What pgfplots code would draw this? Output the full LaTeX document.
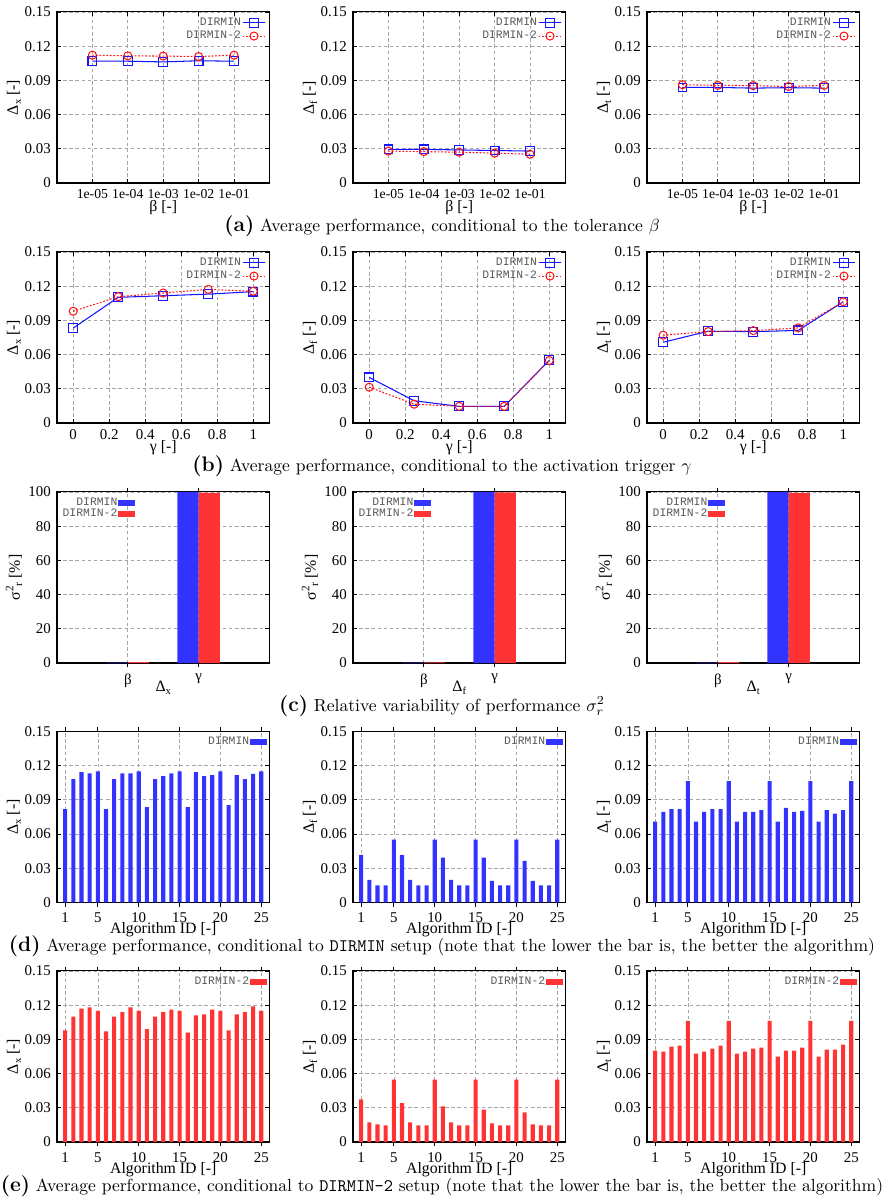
\documentclass[border=0pt]{standalone}
\usepackage{fontspec}
\usepackage{pgfplots}
\pgfplotsset{compat=1.18}
\newfontfamily\tms{Liberation Serif}
\newfontfamily\cour{Liberation Mono}
\definecolor{lblue}{RGB}{20,20,255}
\definecolor{lred}{RGB}{255,20,20}
\definecolor{bblue}{RGB}{51,51,255}
\definecolor{bred}{RGB}{255,51,51}
\newcommand{\sub}[1]{\raisebox{-0.45ex}{\fontsize{6}{6}\selectfont #1}}
\pgfplotsset{
  base/.style={
    scale only axis, width=121.1pt, height=97.5pt, anchor=south west,
    ymin=0, ymax=0.15, ytick={0,0.03,0.06,0.09,0.12,0.15},
    yticklabels={0,0.03,0.06,0.09,0.12,0.15},
    grid=major, grid style={gray!70, dash pattern=on 2pt off 1.5pt, line width=0.4pt},
    axis line style={line width=0.6pt},
    tick align=inside, major tick length=2.5pt,
    tick style={black, line width=0.5pt},
    tick label style={font=\tms\fontsize{8.5}{10}\selectfont},
    label style={font=\tms\fontsize{9}{10}\selectfont},
    ylabel style={at={(axis description cs:-0.2023,0.5)}, anchor=center},
    xlabel style={at={(axis description cs:0.5,-0.142)}, anchor=center},
    legend style={font=\cour\fontsize{6.5}{7}\selectfont, text=black!65, draw=none, fill=none, inner sep=0pt, row sep=0.6pt, nodes={inner sep=0.6pt}},
    legend cell align=right,
    legend plot pos=right,
  },
  linelegend/.style={
    legend style={at={(0.985,0.975)}, anchor=north east},
    legend image code/.code={\draw[##1, mark=none] (0pt,0pt) -- (13pt,0pt); \draw[##1] plot coordinates {(6.5pt,0pt)};},
  },
  linesty/.style={
    linelegend,
    xmin=0, xmax=6, xtick={1,2,3,4,5},
    xticklabels={1e-05,1e-04,1e-03,1e-02,1e-01},
    xticklabel style={font=\tms\fontsize{7.8}{9}\selectfont},
    xlabel={β [-]},
  },
  gamsty/.style={
    linelegend,
    xmin=-0.09, xmax=1.09, xtick={0,0.2,0.4,0.6,0.8,1},
    xticklabels={0,0.2,0.4,0.6,0.8,1},
    xlabel={γ [-]},
  },
  dm/.style={lblue, line width=0.6pt, mark=square, mark size=2.5pt, mark options={solid, line width=0.6pt}},
  dmb/.style={lred, line width=0.6pt, dash pattern=on 1pt off 1pt, mark=o, mark size=2.3pt, mark options={solid, line width=0.6pt}},
  varsty/.style={
    ybar, ymin=0, ymax=100, ytick={0,20,40,60,80,100}, yticklabels={0,20,40,60,80,100},
    xmin=0, xmax=3, xtick={1,2}, xticklabels={β,γ},
    ylabel={σ\raisebox{0.9ex}{\fontsize{6.5}{6}\selectfont 2}\raisebox{-0.3ex}{\fontsize{6.5}{6}\selectfont r} [\%]},
    xlabel style={at={(axis description cs:0.5,-0.145)}},
    legend style={at={(0.02,0.975)}, anchor=north west, row sep=-0.6pt},
    legend image code/.code={\fill[##1, draw=none] (0pt,-1.8pt) rectangle (9.5pt,1.8pt);},
  },
  algsty/.style={
    ybar, xmin=0, xmax=26, xtick={1,5,10,15,20,25}, xticklabels={1,5,10,15,20,25},
    xlabel={Algorithm ID [-]}, xlabel style={at={(axis description cs:0.5,-0.16)}},
    legend style={at={(0.99,0.975)}, anchor=north east},
    legend image code/.code={\fill[##1, draw=none] (0pt,-1.8pt) rectangle (9.5pt,1.8pt);},
  },
}
\begin{document}
\begin{tikzpicture}
\useasboundingbox (0,0) rectangle (503.88pt,-682.86pt);
% ---------------- row a
\begin{axis}[base, linesty, at={(32.49pt,-104.31pt)}, ylabel={Δ\sub{x} [-]}]
\addplot[dm] coordinates {(1,0.1068) (2,0.1068) (3,0.1062) (4,0.1072) (5,0.1068)};
\addlegendentry{DIRMIN}
\addplot[dmb] coordinates {(1,0.1121) (2,0.1115) (3,0.1113) (4,0.1109) (5,0.1121)};
\addlegendentry{DIRMIN-2}
\end{axis}
\begin{axis}[base, linesty, at={(201.21pt,-104.31pt)}, ylabel={Δ\sub{f} [-]}]
\addplot[dm] coordinates {(1,0.0295) (2,0.0295) (3,0.0290) (4,0.0285) (5,0.0280)};
\addlegendentry{DIRMIN}
\addplot[dmb] coordinates {(1,0.0280) (2,0.0275) (3,0.0270) (4,0.0262) (5,0.0252)};
\addlegendentry{DIRMIN-2}
\end{axis}
\begin{axis}[base, linesty, at={(368.79pt,-104.31pt)}, ylabel={Δ\sub{t} [-]}]
\addplot[dm] coordinates {(1,0.0838) (2,0.0838) (3,0.0832) (4,0.0836) (5,0.0832)};
\addlegendentry{DIRMIN}
\addplot[dmb] coordinates {(1,0.0862) (2,0.0856) (3,0.0854) (4,0.0846) (5,0.0856)};
\addlegendentry{DIRMIN-2}
\end{axis}
% ---------------- row b
\begin{axis}[base, gamsty, at={(32.49pt,-241.11pt)}, ylabel={Δ\sub{x} [-]}]
\addplot[dm] coordinates {(0,0.0832) (0.25,0.1102) (0.5,0.1116) (0.75,0.1130) (1,0.1152)};
\addlegendentry{DIRMIN}
\addplot[dmb] coordinates {(0,0.0980) (0.25,0.1108) (0.5,0.1140) (0.75,0.1172) (1,0.1155)};
\addlegendentry{DIRMIN-2}
\end{axis}
\begin{axis}[base, gamsty, at={(201.21pt,-241.11pt)}, ylabel={Δ\sub{f} [-]}]
\addplot[dm] coordinates {(0,0.0400) (0.25,0.0195) (0.5,0.0146) (0.75,0.0146) (1,0.0550)};
\addlegendentry{DIRMIN}
\addplot[dmb] coordinates {(0,0.0314) (0.25,0.0165) (0.5,0.0146) (0.75,0.0146) (1,0.0548)};
\addlegendentry{DIRMIN-2}
\end{axis}
\begin{axis}[base, gamsty, at={(368.79pt,-241.11pt)}, ylabel={Δ\sub{t} [-]}]
\addplot[dm] coordinates {(0,0.0708) (0.25,0.0805) (0.5,0.0801) (0.75,0.0812) (1,0.1063)};
\addlegendentry{DIRMIN}
\addplot[dmb] coordinates {(0,0.0770) (0.25,0.0802) (0.5,0.0810) (0.75,0.0834) (1,0.1063)};
\addlegendentry{DIRMIN-2}
\end{axis}
% ---------------- row c
\begin{axis}[base, varsty, at={(32.49pt,-377.91pt)}, xlabel={Δ\sub{x}}]
\addplot[fill=bblue, draw=none, bar width=0.3, bar shift=-0.15] coordinates {(1,0.2) (2,100)};
\addlegendentry{DIRMIN}
\addplot[fill=bred, draw=none, bar width=0.3, bar shift=0.15] coordinates {(1,0.5) (2,99.5)};
\addlegendentry{DIRMIN-2}
\end{axis}
\begin{axis}[base, varsty, at={(201.21pt,-377.91pt)}, xlabel={Δ\sub{f}}]
\addplot[fill=bblue, draw=none, bar width=0.3, bar shift=-0.15] coordinates {(1,0.2) (2,100)};
\addlegendentry{DIRMIN}
\addplot[fill=bred, draw=none, bar width=0.3, bar shift=0.15] coordinates {(1,0.3) (2,99.7)};
\addlegendentry{DIRMIN-2}
\end{axis}
\begin{axis}[base, varsty, at={(368.79pt,-377.91pt)}, xlabel={Δ\sub{t}}]
\addplot[fill=bblue, draw=none, bar width=0.3, bar shift=-0.15] coordinates {(1,0.2) (2,100)};
\addlegendentry{DIRMIN}
\addplot[fill=bred, draw=none, bar width=0.3, bar shift=0.15] coordinates {(1,0.5) (2,99.5)};
\addlegendentry{DIRMIN-2}
\end{axis}
% ---------------- row d
\begin{axis}[base, algsty, at={(32.49pt,-514.4pt)}, ylabel={Δ\sub{x} [-]}]
\addplot[fill=bblue, draw=none, bar width=0.5, bar shift=0] coordinates {
(1,0.0818) (2,0.1081) (3,0.1142) (4,0.1133) (5,0.1150)
(6,0.0818) (7,0.1081) (8,0.1133) (9,0.1133) (10,0.1150)
(11,0.0836) (12,0.1081) (13,0.1107) (14,0.1133) (15,0.1150)
(16,0.0836) (17,0.1142) (18,0.1107) (19,0.1116) (20,0.1150)
(21,0.0853) (22,0.1116) (23,0.1081) (24,0.1127) (25,0.1150)};
\addlegendentry{DIRMIN}
\end{axis}
\begin{axis}[base, algsty, at={(201.21pt,-514.4pt)}, ylabel={Δ\sub{f} [-]}]
\addplot[fill=bblue, draw=none, bar width=0.5, bar shift=0] coordinates {
(1,0.0417) (2,0.0198) (3,0.0149) (4,0.0149) (5,0.0550)
(6,0.0417) (7,0.0198) (8,0.0149) (9,0.0149) (10,0.0550)
(11,0.0393) (12,0.0198) (13,0.0149) (14,0.0149) (15,0.0550)
(16,0.0393) (17,0.0189) (18,0.0149) (19,0.0149) (20,0.0550)
(21,0.0364) (22,0.0189) (23,0.0149) (24,0.0149) (25,0.0550)};
\addlegendentry{DIRMIN}
\end{axis}
\begin{axis}[base, algsty, at={(368.79pt,-514.4pt)}, ylabel={Δ\sub{t} [-]}]
\addplot[fill=bblue, draw=none, bar width=0.5, bar shift=0] coordinates {
(1,0.0708) (2,0.0795) (3,0.0818) (4,0.0818) (5,0.1063)
(6,0.0708) (7,0.0795) (8,0.0818) (9,0.0818) (10,0.1063)
(11,0.0708) (12,0.0795) (13,0.0795) (14,0.0810) (15,0.1063)
(16,0.0708) (17,0.0830) (18,0.0795) (19,0.0804) (20,0.1063)
(21,0.0708) (22,0.0810) (23,0.0778) (24,0.0810) (25,0.1063)};
\addlegendentry{DIRMIN}
\end{axis}
% ---------------- row e
\begin{axis}[base, algsty, at={(32.49pt,-650.94pt)}, ylabel={Δ\sub{x} [-]}]
\addplot[fill=bred, draw=none, bar width=0.5, bar shift=0] coordinates {
(1,0.098) (2,0.110) (3,0.117) (4,0.118) (5,0.115)
(6,0.097) (7,0.110) (8,0.114) (9,0.118) (10,0.115)
(11,0.099) (12,0.110) (13,0.114) (14,0.116) (15,0.115)
(16,0.096) (17,0.111) (18,0.112) (19,0.116) (20,0.115)
(21,0.098) (22,0.112) (23,0.114) (24,0.119) (25,0.115)};
\addlegendentry{DIRMIN-2}
\end{axis}
\begin{axis}[base, algsty, at={(201.21pt,-650.94pt)}, ylabel={Δ\sub{f} [-]}]
\addplot[fill=bred, draw=none, bar width=0.5, bar shift=0] coordinates {
(1,0.0373) (2,0.0172) (3,0.0154) (4,0.0146) (5,0.0548)
(6,0.0341) (7,0.0172) (8,0.0146) (9,0.0146) (10,0.0548)
(11,0.0312) (12,0.0172) (13,0.0146) (14,0.0146) (15,0.0548)
(16,0.0285) (17,0.0163) (18,0.0146) (19,0.0146) (20,0.0548)
(21,0.0259) (22,0.0154) (23,0.0146) (24,0.0146) (25,0.0548)};
\addlegendentry{DIRMIN-2}
\end{axis}
\begin{axis}[base, algsty, at={(368.79pt,-650.94pt)}, ylabel={Δ\sub{t} [-]}]
\addplot[fill=bred, draw=none, bar width=0.5, bar shift=0] coordinates {
(1,0.0801) (2,0.0792) (3,0.0836) (4,0.0845) (5,0.1063)
(6,0.0775) (7,0.0792) (8,0.0818) (9,0.0845) (10,0.1063)
(11,0.0775) (12,0.0792) (13,0.0818) (14,0.0827) (15,0.1063)
(16,0.0749) (17,0.0801) (18,0.0801) (19,0.0827) (20,0.1063)
(21,0.0749) (22,0.0810) (23,0.0810) (24,0.0853) (25,0.1063)};
\addlegendentry{DIRMIN-2}
\end{axis}
% ---------------- captions
\begin{scope}[every node/.style={inner sep=0pt, font=\fontsize{10}{12}\selectfont}]
\node at (251.94pt,-128.82pt) {{\large\bfseries (a)} Average performance, conditional to the tolerance $\beta$};
\node at (251.94pt,-265.62pt) {{\large\bfseries (b)} Average performance, conditional to the activation trigger $\gamma$};
\node at (251.94pt,-402.42pt) {{\large\bfseries (c)} Relative variability of performance $\sigma_r^2$};
\node at (251.94pt,-539.2pt) {{\large\bfseries (d)} Average performance, conditional to \texttt{DIRMIN} setup (note that the lower the bar is, the better the algorithm)};
\node at (251.94pt,-676pt) {{\large\bfseries (e)} Average performance, conditional to \texttt{DIRMIN-2} setup (note that the lower the bar is, the better the algorithm)};
\end{scope}
\end{tikzpicture}
\end{document}
